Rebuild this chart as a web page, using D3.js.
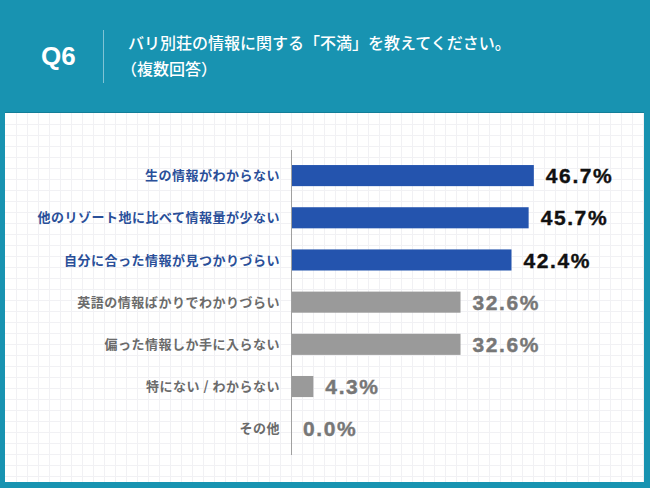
<!DOCTYPE html>
<html><head><meta charset="utf-8">
<script src="https://cdn.jsdelivr.net/npm/d3@7/dist/d3.min.js"></script>
<style>
html,body{margin:0;padding:0;background:#1893b1;}
svg{display:block;}
</style></head>
<body>
<svg id="chart" width="650" height="488"></svg>
<script>
const questionNo = "Q6";
const titleLines = ["バリ別荘の情報に関する「不満」を教えてください。", "（複数回答）"];
const categories = [
  "生の情報がわからない",
  "他のリゾート地に比べて情報量が少ない",
  "自分に合った情報が見つかりづらい",
  "英語の情報ばかりでわかりづらい",
  "偏った情報しか手に入らない",
  "特にない / わからない",
  "その他"
];
const values = [46.7, 45.7, 42.4, 32.6, 32.6, 4.3, 0.0];
const highlighted = [true, true, true, false, false, false, false];

const W = 650, H = 488;
const svg = d3.select("#chart");

// background
svg.append("rect").attr("width", W).attr("height", H).attr("fill", "#1893b1");

// panel
const panel = {x: 5, y: 113, w: 639, h: 369};
svg.append("rect").attr("x", panel.x).attr("y", panel.y - 1).attr("width", panel.w).attr("height", 1).attr("fill", "#137e98");
svg.append("rect").attr("x", panel.x).attr("y", panel.y).attr("width", panel.w).attr("height", panel.h).attr("fill", "#ffffff");

// grid
const cell = 11;
const grid = svg.append("g").attr("stroke", "#f1f1f4").attr("stroke-width", 1);
for (let x = panel.x + cell; x < panel.x + panel.w; x += cell) {
  grid.append("line").attr("x1", x + 0.5).attr("x2", x + 0.5).attr("y1", panel.y).attr("y2", panel.y + panel.h);
}
for (let y = panel.y + cell; y < panel.y + panel.h; y += cell) {
  grid.append("line").attr("y1", y + 0.5).attr("y2", y + 0.5).attr("x1", panel.x).attr("x2", panel.x + panel.w);
}

// header
svg.append("text").attr("x", 41).attr("y", 65)
  .attr("font-family", "Liberation Sans, Arial, sans-serif").attr("font-weight", 700)
  .attr("font-size", 26).attr("fill", "#ffffff").text(questionNo);
svg.append("line").attr("x1", 103.5).attr("x2", 103.5).attr("y1", 30).attr("y2", 83)
  .attr("stroke", "rgba(255,255,255,0.45)").attr("stroke-width", 1);
titleLines.forEach((t, i) => {
  svg.append("text").attr("x", i === 0 ? 128 : 121).attr("y", 49 + i * 26)
    .attr("font-family", "Noto Sans CJK JP, sans-serif").attr("font-weight", 500)
    .attr("font-size", 16).attr("fill", "#ffffff").text(t);
});

// scales
const x = d3.scaleLinear().domain([0, 50]).range([291, 551]);
const y = d3.scaleBand().domain(categories).range([154.5, 449.8]).paddingInner(0.5).paddingOuter(0.25);

const blue = "#2454ae", gray = "#9a9a9a";

// bars
svg.append("g").selectAll("rect").data(categories).join("rect")
  .attr("x", x(0))
  .attr("y", d => y(d))
  .attr("width", (d, i) => x(values[i]) - x(0))
  .attr("height", y.bandwidth())
  .attr("fill", (d, i) => highlighted[i] ? blue : gray);

// axis line
svg.append("line").attr("x1", x(0) + 0.5).attr("x2", x(0) + 0.5).attr("y1", 150).attr("y2", 455)
  .attr("stroke", "#a0a0a0").attr("stroke-width", 1);

// category labels
svg.append("g").selectAll("text").data(categories).join("text")
  .attr("x", 280)
  .attr("y", d => y(d) + y.bandwidth() / 2)
  .attr("dy", "0.36em")
  .attr("text-anchor", "end")
  .attr("font-family", "Noto Sans CJK JP, sans-serif")
  .attr("font-weight", 700)
  .attr("font-size", 13)
  .attr("letter-spacing", "0.5px")
  .attr("fill", (d, i) => highlighted[i] ? "#2a4f99" : "#6b6b6b")
  .text(d => d);

// value labels
svg.append("g").selectAll("text").data(categories).join("text")
  .attr("x", (d, i) => x(values[i]) + 12)
  .attr("y", d => y(d) + y.bandwidth() / 2)
  .attr("dy", "0.36em")
  .attr("font-family", "Liberation Sans, Arial, sans-serif")
  .attr("font-weight", 700)
  .attr("font-size", 21)
  .attr("letter-spacing", "1.6px")
  .attr("stroke", (d, i) => highlighted[i] ? "#111111" : "#777777")
  .attr("stroke-width", 0.4)
  .attr("fill", (d, i) => highlighted[i] ? "#111111" : "#777777")
  .text((d, i) => values[i].toFixed(1) + "%");
</script>
</body></html>
